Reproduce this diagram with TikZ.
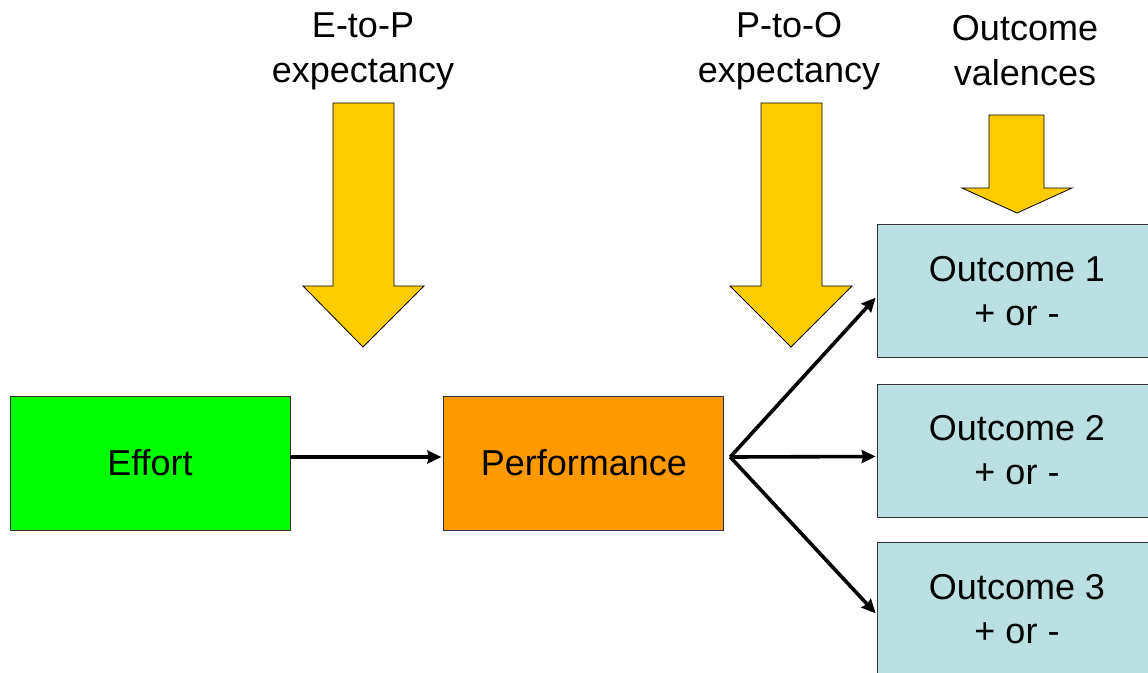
\documentclass[tikz,border=0pt]{standalone}
\usepackage{fontspec}
\setmainfont{Liberation Sans}
\usetikzlibrary{arrows.meta, positioning, calc}
\definecolor{effortgreen}{HTML}{00FF00}
\definecolor{perforange}{HTML}{FF9900}
\definecolor{outcomeblue}{HTML}{BBE0E3}
\definecolor{bigyellow}{HTML}{FFCC00}
\tikzstyle{block} = [
    rectangle, 
    minimum width=280pt, 
    minimum height=134pt, 
    text centered, 
    align=center,
    draw=black!80, 
    line width=0.8pt,
    inner sep=0pt,
    font=\fontsize{36}{44}\selectfont
]
\tikzstyle{effortbox} = [block, fill=effortgreen]
\tikzstyle{perfbox} = [block, fill=perforange]
\tikzstyle{outcomebox} = [block, fill=outcomeblue, minimum height=133pt]
\tikzstyle{toplabel} = [
    align=center, 
    inner sep=0pt, 
    font=\fontsize{36}{45}\selectfont
]
\tikzstyle{arrow} = [-{Stealth[length=14pt, width=13pt, inset=1.5pt]}, line width=3.6pt]
\tikzstyle{bigarrow} = [fill=bigyellow, draw=black, line width=0.8pt, line join=miter]

\begin{document}
\begin{tikzpicture}[x=1pt, y=-1pt]
    \useasboundingbox (0,0) rectangle (1148,672);

    % Main chain
    \node (effort) [effortbox] at (150,463) {Effort};
    \node (perf) [perfbox, right=153pt of effort] {Performance};

    % Outcomes
    \node (out2) [outcomebox] at (1017,450.5) {Outcome 2\\+ or -};
    \node (out1) [outcomebox, above=26pt of out2] {Outcome 1\\+ or -};
    \node (out3) [outcomebox, below=25pt of out2] {Outcome 3\\+ or -};

    % Labels on top
    \node (ep_label) [toplabel] at (363,51) {E-to-P\\expectancy};
    \node (po_label) [toplabel] at (789,51) {P-to-O\\expectancy};
    \node (val_label) [toplabel] at (1025,51) {Outcome\\valences};

    % Block arrows
    \draw [bigarrow] (333,103) -- (394,103) -- (394,286) -- (424,286) -- (363,347)
        -- (303,286) -- (333,286) -- cycle;
    \draw [bigarrow] (761,103) -- (822,103) -- (822,286) -- (852,286) -- (791,347)
        -- (730,286) -- (761,286) -- cycle;
    \draw [bigarrow] (989,115) -- (1044,115) -- (1044,188) -- (1072,188) -- (1017,213)
        -- (962,188) -- (989,188) -- cycle;

    % Connection points
    \coordinate (effort_out) at ($(effort.east)+(0,6pt)$);
    \coordinate (perf_in) at ($(perf.west)+(-2pt,6pt)$);
    \coordinate (split) at ($(perf.east)+(6pt,6pt)$);
    \coordinate (out1_in) at ($(out1.west)+(-1pt,-7pt)$);
    \coordinate (out2_in) at ($(out2.west)+(-1pt,-6pt)$);
    \coordinate (out3_in) at ($(out3.west)+(-1pt,-4pt)$);

    % Arrows
    \draw [arrow] (effort_out) -- (perf_in);
    \draw [arrow] (split) -- (out1_in);
    \draw [arrow] (split) -- (out2_in);
    \draw [arrow] (split) -- (out3_in);
\end{tikzpicture}
\end{document}
